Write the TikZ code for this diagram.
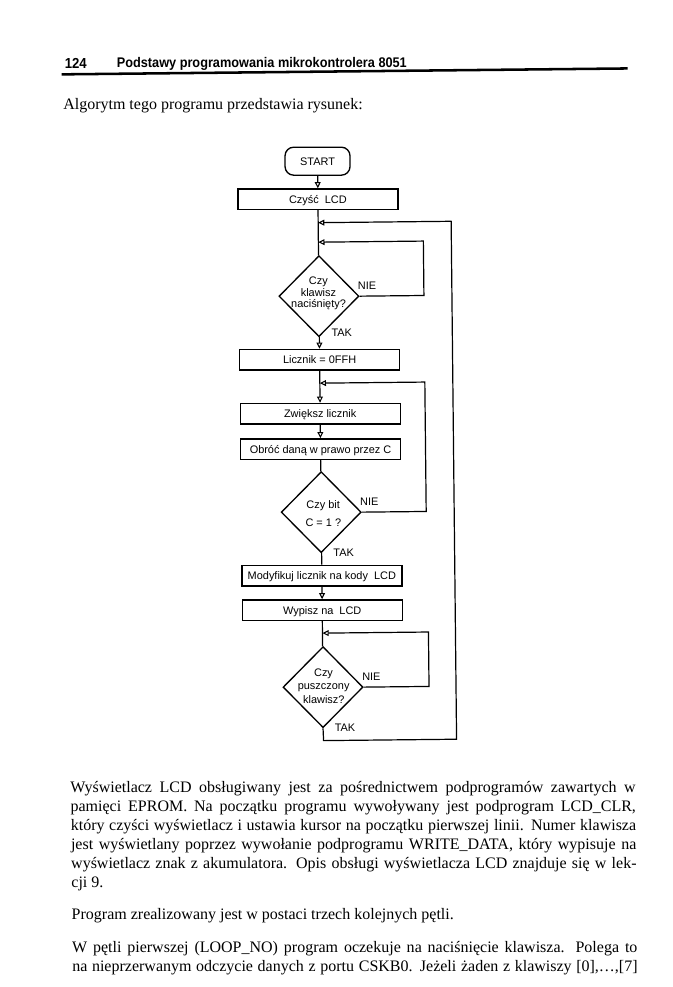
\documentclass[tikz,border=0pt]{standalone}
\usepackage{graphicx}
\usepackage{fontspec}
\setmainfont{Liberation Serif}
\newfontfamily\lsans{Liberation Sans}
\usetikzlibrary{shapes.geometric,arrows.meta}
\newcommand\fcf{\lsans\fontsize{8.2}{9.8}\selectfont}
\newcommand\btf{\fontsize{12}{14.4}\selectfont}
\newcommand\hdf{\lsans\bfseries}
\newcommand\jline[1]{\makebox[424pt][s]{#1}}
\begin{document}
\begin{tikzpicture}[x=0.75pt,y=-0.75pt,
 ln/.style={line width=0.9pt},
 arr/.style={ln,-{Triangle[open,length=4.6pt,width=4.4pt,line width=0.8pt]}},
 pbox/.style={draw,line width=1pt,rectangle,minimum width=120pt,minimum height=15.4pt,inner sep=0pt,font=\fcf,text height=5.9pt,text depth=0pt},
 term/.style={draw,line width=1pt,rectangle,rounded corners=6.5pt,minimum width=48.75pt,minimum height=21pt,inner sep=0pt,font=\fcf,text height=5.9pt,text depth=0pt},
 dec/.style={draw,line width=1pt,diamond,aspect=1,minimum width=60pt,minimum height=60.75pt,inner sep=0pt},
 fl/.style={anchor=base,inner sep=0pt,font=\fcf},
 bl/.style={anchor=base west,inner sep=0pt,font=\btf},
 hd/.style={anchor=base west,inner sep=0pt}]
\path[fill=white,use as bounding box] (0,0) rectangle (672,987);
\begin{scope}[rotate around={0.6:(336,493)}]
% header
\node[hd] (pg) at (69,65.5) {\resizebox{16.5pt}{7.6pt}{\hdf 124}};
\node[hd] (ttl) at (121,65.5) {\resizebox{217.5pt}{7.6pt}{\hdf Podstawy programowania mikrokontrolera 8051}};
\draw[line width=1.9pt] (66,71.5) -- (632,71.5);
\node[bl] (alg) at (67,107) {Algorytm tego programu przedstawia rysunek:};
% flowchart nodes
\node[term] (st) at (321,161) {START};
\node[pbox] (c1) at (321,199) {Czyść\ \ LCD};
\node[dec] (d1) at (321,296) {};
\node[fl] (d1a) at (320.5,284.5) {Czy};
\node[fl] (d1b) at (320.5,296) {klawisz};
\node[fl] (d1c) at (320.5,307.5) {naciśnięty?};
\node[fl] (nie1) at (369.2,289.4) {NIE};
\node[fl] (tak1) at (343.4,337) {TAK};
\node[pbox] (b2) at (321,359.5) {Licznik = 0FFH};
\node[pbox] (b3) at (321,413.5) {Zwiększ licznik};
\node[pbox] (b4) at (321,449) {Obróć daną w prawo przez C};
\node[dec] (d2) at (321,512) {};
\node[fl] (d2a) at (323,508.5) {Czy bit};
\node[fl] (d2b) at (323,526) {C = 1 ?};
\node[fl] (nie2) at (369.2,505.4) {NIE};
\node[fl] (tak2) at (343,556.1) {TAK};
\node[pbox] (b5) at (321,575.5) {Modyfikuj licznik na kody\ \ LCD};
\node[pbox] (b6) at (321,610) {Wypisz na\ \ LCD};
\node[dec] (d3) at (321,687) {};
\node[fl] (d3a) at (321.6,676) {Czy};
\node[fl] (d3b) at (321.6,689.5) {puszczony};
\node[fl] (d3c) at (321.6,703) {klawisz?};
\node[fl] (nie3) at (369.4,680.4) {NIE};
\node[fl] (tak3) at (342.5,731.8) {TAK};
% junction coordinates
\coordinate (j1) at (321,222.5);
\coordinate (j2) at (321,242);
\coordinate (j3) at (321,383);
\coordinate (j4) at (321,633);
\coordinate (r1) at (426,242);
\coordinate (r2) at (426,383);
\coordinate (r3) at (427,633);
\coordinate (bot) at (321,740.5);
\coordinate (rb) at (454,740.5);
\coordinate (ro) at (454,222.5);
% connectors
\draw[arr] (st) -- (c1);
\draw[ln] (c1) -- (d1);
\draw[arr] (d1) -- (b2);
\draw[arr] (b2) -- (b3);
\draw[arr] (b3) -- (b4);
\draw[ln] (b4) -- (d2);
\draw[ln] (d2) -- (b5);
\draw[arr] (b5) -- (b6);
\draw[ln] (b6) -- (d3);
\draw[arr] (d1.east) -| (r1) -- (j2);
\draw[arr] (d2.east) -| (r2) -- (j3);
\draw[arr] (d3.east) -| (r3) -- (j4);
\draw[arr] (d3.south) -- (bot) -- (rb) -- (ro) -- (j1);
% body text
\node[bl] (l1) at (67,790) {\jline{Wyświetlacz LCD obsługiwany jest za pośrednictwem podprogramów zawartych w}};
\node[bl] (l2) at (67,809) {\jline{pamięci EPROM. Na początku programu wywoływany jest podprogram LCD\_CLR,}};
\node[bl] (l3) at (67,828) {\jline{który czyści wyświetlacz i ustawia kursor na początku pierwszej linii. Numer klawisza}};
\node[bl] (l4) at (67,847) {\jline{jest wyświetlany poprzez wywołanie podprogramu WRITE\_DATA, który wypisuje na}};
\node[bl] (l5) at (67,866) {\jline{wyświetlacz znak z akumulatora. Opis obsługi wyświetlacza LCD znajduje się w lek-}};
\node[bl] (l6) at (67,885) {cji 9.};
\node[bl] (l7) at (67,917) {Program zrealizowany jest w postaci trzech kolejnych pętli.};
\node[bl] (l8) at (67,949.5) {\jline{W pętli pierwszej (LOOP\_NO) program oczekuje na naciśnięcie klawisza. Polega to}};
\node[bl] (l9) at (67,968.5) {\jline{na nieprzerwanym odczycie danych z portu CSKB0. Jeżeli żaden z klawiszy [0],…,[7]}};
\end{scope}
\end{tikzpicture}
\end{document}
